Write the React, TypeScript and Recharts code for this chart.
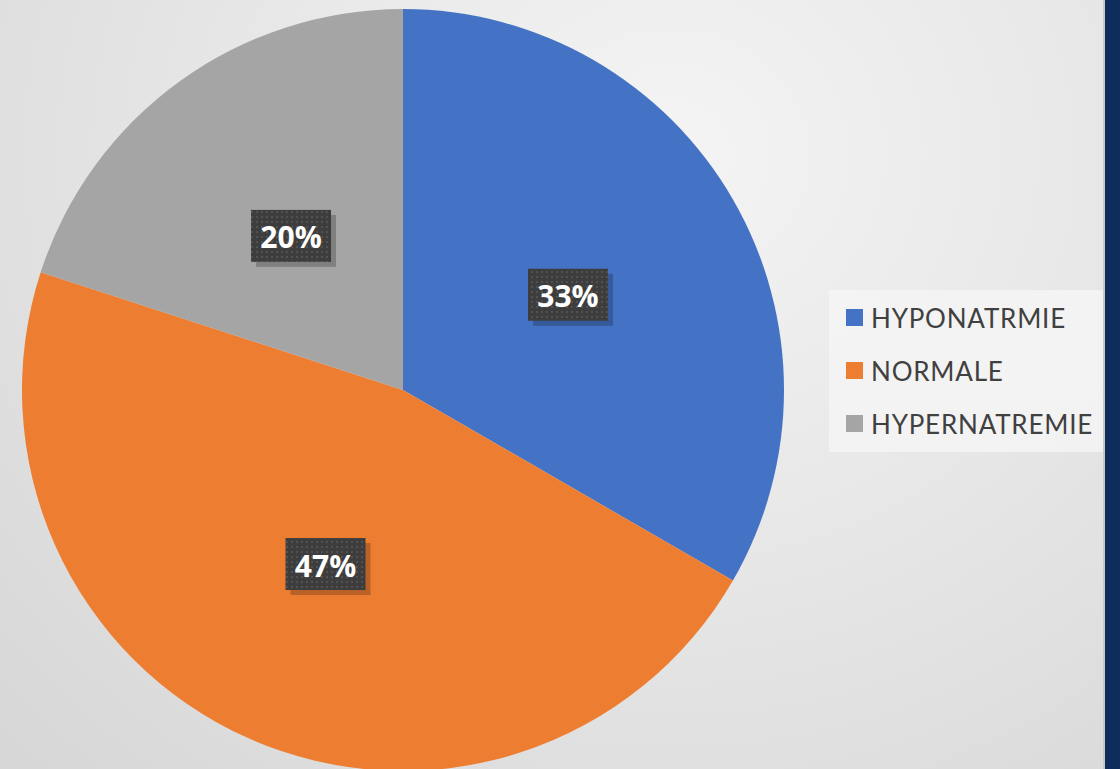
import React from 'react';
import { PieChart, Pie, Cell, Legend } from 'recharts';

const categories = ['HYPONATRMIE', 'NORMALE', 'HYPERNATREMIE'];
const counts = [5, 7, 3];
const colors = ['#4472C4', '#ED7D31', '#A5A5A5'];

const data = categories.map((name, i) => ({ name, value: counts[i] }));

const RAD = Math.PI / 180;

// dark dotted box with the percentage, placed halfway out along the slice
const renderLabel = (props: any) => {
  const { cx, cy, midAngle, outerRadius, percent, index } = props;
  const r = outerRadius * 0.5;
  const x = cx + r * Math.cos(-midAngle * RAD);
  const y = cy + r * Math.sin(-midAngle * RAD);
  const w = 80;
  const h = 52;
  const pid = `dots-${index}`;
  return (
    <g>
      <defs>
        <pattern id={pid} width={5} height={5} patternUnits="userSpaceOnUse">
          <rect width={5} height={5} fill="#3d3d3d" />
          <rect x={1} y={1} width={2} height={2} fill="#525252" />
        </pattern>
      </defs>
      <rect x={x - w / 2 + 5} y={y - h / 2 + 5} width={w} height={h} fill="rgba(0,0,0,0.22)" />
      <rect x={x - w / 2} y={y - h / 2} width={w} height={h} fill={`url(#${pid})`} />
      <text
        x={x}
        y={y + 1}
        fill="#ffffff"
        textAnchor="middle"
        dominantBaseline="central"
        fontFamily="'Open Sans', sans-serif"
        fontWeight={700}
        fontSize={30}
      >
        {`${Math.round(percent * 100)}%`}
      </text>
    </g>
  );
};

const renderLegend = () => (
  <div
    style={{
      background: 'rgba(245,245,245,0.85)',
      width: 274,
      height: 162,
      boxSizing: 'border-box',
      paddingTop: 1,
      paddingLeft: 17,
    }}
  >
    {categories.map((c, i) => (
      <div key={c} style={{ display: 'flex', alignItems: 'center', height: 53 }}>
        <span style={{ width: 17, height: 17, background: colors[i], marginRight: 8 }} />
        <span style={{ fontFamily: 'Lato, sans-serif', fontSize: 26, color: '#404040', letterSpacing: 0.8 }}>{c}</span>
      </div>
    ))}
  </div>
);

export default function App() {
  return (
    <div
      style={{
        position: 'absolute',
        left: 0,
        top: 0,
        width: 1120,
        height: 769,
        overflow: 'hidden',
        background: 'radial-gradient(ellipse at 60% 20%, #f4f4f4 0%, #e6e6e6 50%, #d6d6d6 100%)',
      }}
    >
      <div style={{ position: 'absolute', left: 1103, top: 0, width: 2, height: 769, background: '#c8c8c8' }} />
      <div style={{ position: 'absolute', left: 1105, top: 0, width: 15, height: 769, background: '#0f2d5c' }} />
      <PieChart
        width={1105}
        height={769}
        margin={{ top: 0, right: 0, bottom: 0, left: 0 }}
        style={{ position: 'absolute', left: 0, top: 0 }}
      >
        <Pie
          data={data}
          dataKey="value"
          nameKey="name"
          cx={403}
          cy={390}
          outerRadius={381}
          startAngle={90}
          endAngle={-270}
          stroke="none"
          label={renderLabel}
          labelLine={false}
          isAnimationActive={false}
        >
          {data.map((d, i) => (
            <Cell key={d.name} fill={colors[i]} />
          ))}
        </Pie>
        <Legend
          content={renderLegend}
          wrapperStyle={{ position: 'absolute', left: 829, top: 290, width: 274 }}
        />
      </PieChart>
    </div>
  );
}
